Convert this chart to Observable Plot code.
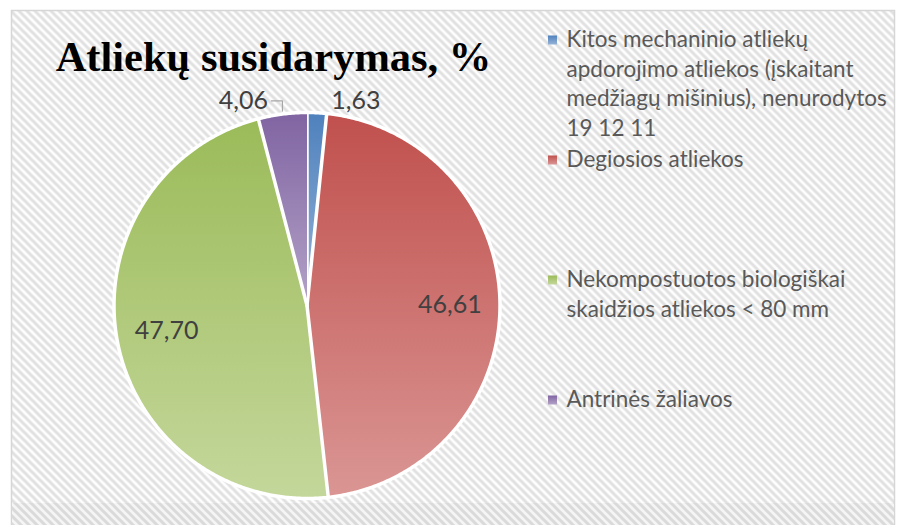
<!DOCTYPE html>
<html><head><meta charset="utf-8">
<script src="https://cdn.jsdelivr.net/npm/d3@7"></script>
<script src="https://cdn.jsdelivr.net/npm/@observablehq/plot@0.6"></script>
<style>body{margin:0;background:#fff}</style>
</head><body><div id="chart"></div>
<script>
// ---- data ----
const title = "Atliekų susidarymas, %";
const categories = [
  "Kitos mechaninio atliekų apdorojimo atliekos (įskaitant medžiagų mišinius), nenurodytos 19 12 11",
  "Degiosios atliekos",
  "Nekompostuotos biologiškai skaidžios atliekos < 80 mm",
  "Antrinės žaliavos"
];
const values = [1.63, 46.61, 47.70, 4.06];

// ---- style ----
const colorsTop = ["#4F81BD", "#C0504D", "#9BBB59", "#8064A2"];
const colorsBottom = ["#95B3D7", "#DA9694", "#C4D79B", "#B3A2C7"];
const W = 900, H = 525;
const cx = 306.5, cy = 305, R = 193;
const labelFont = 25, legendFont = 22.5, legendLineH = 29.5;
const legendMarkX = 548, legendTextX = 566, legendTop = 40, legendStep = 120, legendMaxW = 334;

const fmt = v => v.toFixed(2).replace(".", ",");

// ---- pie geometry from data ----
const arcs = d3.pie().sort(null).value(d => d)(values);
const pt = (a, r) => [cx + r * Math.sin(a), cy - r * Math.cos(a)];
const slicePts = arcs.flatMap((a, i) => {
  const n = Math.max(2, Math.ceil((a.endAngle - a.startAngle) / (Math.PI / 360)));
  const pts = [{i, x: cx, y: cy}];
  for (let k = 0; k <= n; k++) {
    const t = a.startAngle + (a.endAngle - a.startAngle) * k / n;
    const [x, y] = pt(t, R);
    pts.push({i, x, y});
  }
  return pts;
});

// labels
const labels = arcs.map((a, i) => {
  const mid = (a.startAngle + a.endAngle) / 2;
  const share = values[i] / d3.sum(values);
  if (share > 0.1) {
    const [x, y] = pt(mid, R * 0.74);
    return {i, x, y, text: fmt(values[i]), outside: false, mid};
  }
  const [ax, ay] = pt(mid, R);
  const side = Math.sin(mid) >= 0 ? 1 : -1;
  return {i, x: ax + side * 39, y: cy - R * 1.06, text: fmt(values[i]), outside: true, mid, ax, ay, side};
});
const leaders = labels.filter(d => d.outside && d.side < 0).flatMap(d => [
  {i: d.i, x: d.x + 28, y: d.y},
  {i: d.i, x: d.ax, y: d.y},
  {i: d.i, x: d.ax, y: d.ay - 3}
]);

// legend wrapping
const ctx = document.createElement("canvas").getContext("2d");
ctx.font = `${legendFont}px Lato`;
function wrap(s, maxW) {
  const words = s.split(" "); const lines = []; let cur = "";
  for (const w of words) {
    const t = cur ? cur + " " + w : w;
    if (ctx.measureText(t).width > maxW && cur) { lines.push(cur); cur = w; } else cur = t;
  }
  lines.push(cur);
  return lines;
}
const legend = categories.map((c, i) => {
  const lines = wrap(c, legendMaxW);
  const y0 = legendTop + i * legendStep;
  return {i, y0, lines: lines.length, text: lines.join("\n"), yc: y0 + (lines.length - 1) * legendLineH / 2};
});

// defs: hatch pattern + gradients
const defs = () => {
  const g = document.createElementNS("http://www.w3.org/2000/svg", "defs");
  g.innerHTML = `
    <pattern id="hatch" patternUnits="userSpaceOnUse" width="8" height="8">
      <rect width="8" height="8" fill="#ffffff"/>
      <path d="M-2,-2 L10,10 M-2,6 L2,10 M6,-2 L10,2" stroke="#e0e0e0" stroke-width="3"/>
    </pattern>
    <pattern id="hatch2" patternUnits="userSpaceOnUse" width="8" height="8">
      <rect width="8" height="8" fill="#f5f5f5"/>
      <path d="M-2,-2 L10,10 M-2,6 L2,10 M6,-2 L10,2" stroke="#dadada" stroke-width="3"/>
    </pattern>
    ${colorsTop.map((c, i) => `<linearGradient id="grad${i}" x1="0" y1="0" x2="0" y2="1">
      <stop offset="0" stop-color="${c}"/><stop offset="1" stop-color="${colorsBottom[i]}"/></linearGradient>`).join("")}
  `;
  return g;
};

const chart = Plot.plot({
  width: W, height: H,
  margin: 0,
  x: {type: "identity", axis: null},
  y: {type: "identity", axis: null},
  style: {background: "#fff"},
  marks: [
    defs,
    Plot.frame({fill: "url(#hatch)", stroke: "#d6d6d6", strokeWidth: 1.5, insetLeft: 11, insetTop: 10, insetRight: 6, insetBottom: -5}),
    Plot.rect([0], {x1: 12, x2: 894, y1: 503, y2: 525, fill: "url(#hatch2)"}),
    Plot.line(slicePts, {x: "x", y: "y", z: "i", fill: d => `url(#grad${d.i})`, stroke: "white", strokeWidth: 3.5, strokeLinejoin: "round"}),
    Plot.line(leaders, {x: "x", y: "y", z: "i", stroke: "#a6a6a6", strokeWidth: 1.2}),
    Plot.text(labels, {x: "x", y: "y", text: "text", fontFamily: "Lato", fontSize: labelFont, fill: "#404040", textAnchor: "middle", lineAnchor: "middle"}),
    Plot.text([title], {x: 273, y: 70, text: d => d, fontFamily: "Liberation Serif", fontWeight: "bold", fontSize: 42.5, fill: "#000", lineAnchor: "bottom"}),
    Plot.rect(legend, {x1: legendMarkX, x2: legendMarkX + 9, y1: d => d.y0 - 4.5, y2: d => d.y0 + 4.5, fill: d => `url(#grad${d.i})`}),
    Plot.text(legend, {x: legendTextX, y: "yc", dy: -2.5, text: "text", fontFamily: "Lato", fontSize: legendFont, fill: "#595959", textAnchor: "start", lineAnchor: "middle", lineHeight: legendLineH / legendFont})
  ]
});
document.getElementById("chart").appendChild(chart);
</script>
</body></html>
